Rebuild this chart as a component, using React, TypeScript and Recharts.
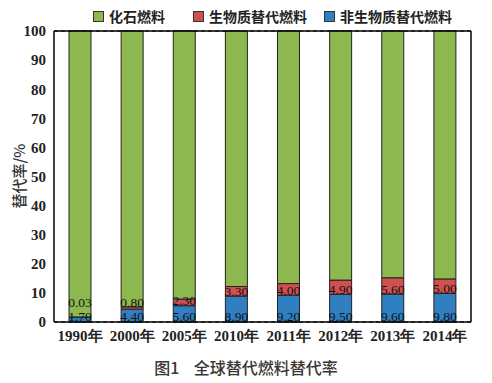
import React from 'react'
import { BarChart, Bar, XAxis, YAxis, CartesianGrid, ReferenceLine, LabelList } from 'recharts'

const years = ['1990年', '2000年', '2005年', '2010年', '2011年', '2012年', '2013年', '2014年']
const nonBiomass = [1.7, 4.4, 5.6, 8.9, 9.2, 9.5, 9.6, 9.8]
const biomass = [0.03, 0.8, 2.3, 3.3, 4.0, 4.9, 5.6, 5.0]
const fossil = [98.27, 94.8, 92.1, 87.8, 86.8, 85.6, 84.8, 85.2]
const yTicks = [0, 10, 20, 30, 40, 50, 60, 70, 80, 90, 100]

const seriesNames = ['化石燃料', '生物质替代燃料', '非生物质替代燃料']
const colors = ['#8cb84f', '#d05050', '#2f7fc1']

const data = years.map((year, i) => ({
  year,
  nonBio: nonBiomass[i],
  bio: biomass[i],
  fossil: fossil[i],
}))

const serif = '"Liberation Serif", "DejaVu Serif", serif'
const cjk = '"Noto Sans CJK SC", "Noto Sans", sans-serif'

const PLOT_BOTTOM = 322

const BlueLabel = (props: any) => {
  const { x, y, width, height, value } = props
  return (
    <text x={x + width / 2} y={y + height - 6} textAnchor="middle" dominantBaseline="central"
      fontFamily={serif} fontSize={13.5} fill="#111">
      {Number(value).toFixed(2)}
    </text>
  )
}

const RedLabel = (props: any) => {
  const { x, y, width, height, value } = props
  const cy = Math.min(y + height - 5, PLOT_BOTTOM - 20)
  return (
    <text x={x + width / 2} y={cy} textAnchor="middle" dominantBaseline="central"
      fontFamily={serif} fontSize={13.5} fill="#111">
      {Number(value).toFixed(2)}
    </text>
  )
}

const TopLegend = () => (
  <div style={{ position: 'absolute', top: 6, left: 93, display: 'flex', alignItems: 'center',
    fontFamily: cjk, fontWeight: 700, fontSize: 14, color: '#222' }}>
    {seriesNames.map((name, i) => (
      <div key={name} style={{ display: 'flex', alignItems: 'center', marginRight: i === 0 ? 28 : 17 }}>
        <span style={{ width: 9, height: 9, background: colors[i], border: '1px solid #333', marginRight: 5 }} />
        <span>{name}</span>
      </div>
    ))}
  </div>
)

export default function App() {
  return (
    <div style={{ position: 'absolute', left: 0, top: 0, width: 492, height: 383, background: '#fff' }}>
      <BarChart width={492} height={383} data={data}
        margin={{ top: 31, right: 20, left: 0, bottom: 31 }} barSize={22}>
        <CartesianGrid vertical={false} stroke="#000" strokeDasharray="4 3" />
        <XAxis dataKey="year" axisLine={{ stroke: '#000', strokeWidth: 1.5 }} tickLine={false}
          height={30} interval={0}
          tick={{ fontFamily: serif, fontWeight: 700, fontSize: 15, fill: '#222' }} />
        <YAxis yAxisId="left" domain={[0, 100]} ticks={yTicks} width={54}
          axisLine={{ stroke: '#000', strokeWidth: 1.5 }} tickLine={false} tickMargin={2}
          tick={{ fontFamily: serif, fontWeight: 700, fontSize: 15, fill: '#222' }}
          label={{ value: '替代率/%', angle: -90, position: 'insideLeft', offset: 20, dy: 32,
            style: { fontFamily: cjk, fontSize: 15, fontWeight: 500, fill: '#333' } }} />
        <YAxis yAxisId="right" orientation="right" domain={[0, 100]} width={1} tick={false}
          tickLine={false} axisLine={{ stroke: '#000', strokeWidth: 1.5 }} />
        <ReferenceLine yAxisId="left" y={100} stroke="#000" strokeWidth={1.5} />
        <Bar yAxisId="left" dataKey="nonBio" stackId="a" fill={colors[2]} stroke="#222" strokeWidth={1}
          isAnimationActive={false}>
          <LabelList dataKey="nonBio" content={BlueLabel} />
        </Bar>
        <Bar yAxisId="left" dataKey="bio" stackId="a" fill={colors[1]} stroke="#222" strokeWidth={1}
          isAnimationActive={false}>
          <LabelList dataKey="bio" content={RedLabel} />
        </Bar>
        <Bar yAxisId="left" dataKey="fossil" stackId="a" fill={colors[0]} stroke="#222" strokeWidth={1}
          isAnimationActive={false} />
      </BarChart>
      <TopLegend />
      <div style={{ position: 'absolute', top: 355, left: 0, width: 492, textAlign: 'center',
        fontFamily: cjk, fontSize: 16, fontWeight: 500, color: '#3a3530', whiteSpace: 'pre' }}>
        {'图1    全球替代燃料替代率'}
      </div>
    </div>
  )
}
